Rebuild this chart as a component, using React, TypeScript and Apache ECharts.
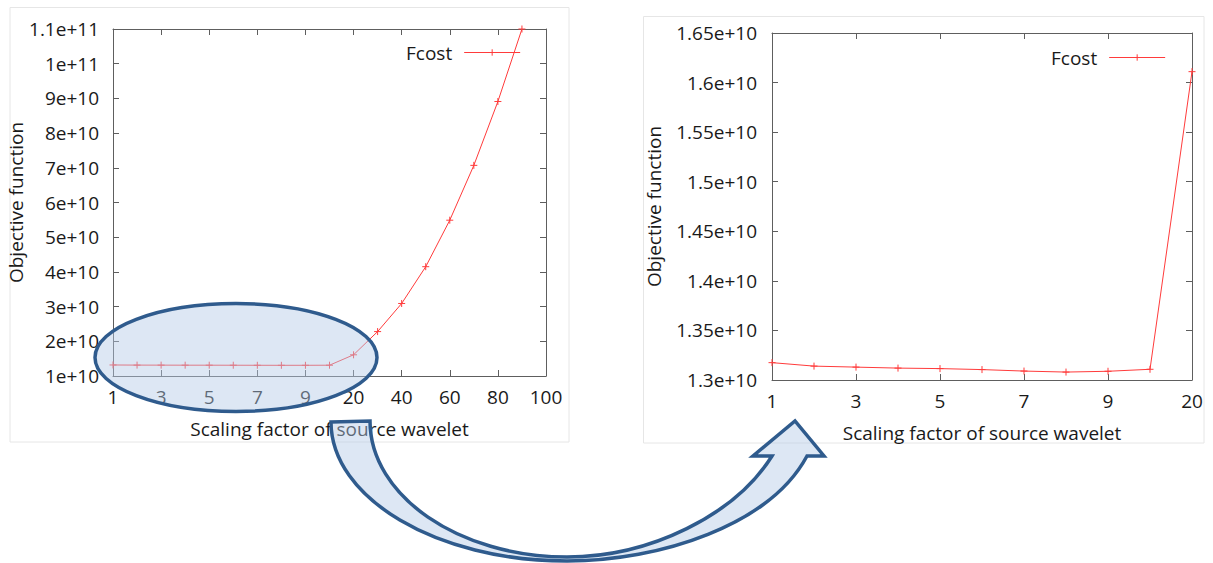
import React, { useEffect, useRef } from "react";
import * as echarts from "echarts";

// Scaling factors of the source wavelet (category axes)
const factorsLeft = ["1", "2", "3", "4", "5", "6", "7", "8", "9", "10", "20", "30", "40", "50", "60", "70", "80", "90", "100"];
const factorsRight = ["1", "2", "3", "4", "5", "6", "7", "8", "9", "10", "20"];

// Objective function values (Fcost)
const fcostLow = [1.3175e10, 1.314e10, 1.313e10, 1.312e10, 1.3115e10, 1.3105e10, 1.309e10, 1.308e10, 1.3088e10, 1.3108e10]; // factors 1..10
const fcostHigh = [1.611e10, 2.28e10, 3.09e10, 4.15e10, 5.49e10, 7.07e10, 8.91e10, 1.1e11]; // factors 20..90

const fcostLeft = [...fcostLow, ...fcostHigh];
const fcostRight = [...fcostLow, fcostHigh[0]];

const seriesName = "Fcost";
const xTitle = "Scaling factor of source wavelet";
const yTitle = "Objective function";

const FONT = "'Open Sans', 'Noto Sans', sans-serif";
const FS = 19;
const AXIS_COLOR = "#5e5e5e";
const TEXT_COLOR = "#1a1a1a";
const RED = "#ff3b3b";

function sci(v: number): string {
  if (v === 0) return "0";
  const e = Math.floor(Math.log10(Math.abs(v)) + 1e-9);
  const m = parseFloat((v / Math.pow(10, e)).toFixed(3));
  return `${m}e+${e}`;
}

const ARROW_D =
  "M331,422 L370,421 C370,496 459,557 567,557 C650,557 735,515 772,456 L753,456 L795,421 L824,456 L807,456 C770,525 660,561 567,561 C436,561 331,498 331,422 Z";

let registered = false;
function registerArrow() {
  if (registered) return;
  registered = true;
  echarts.graphic.registerShape("curvedArrow", echarts.graphic.extendPath(ARROW_D, {}) as any);
}

export default function App() {
  const ref = useRef<HTMLDivElement>(null);

  useEffect(() => {
    if (!ref.current) return;
    registerArrow();
    const chart = echarts.init(ref.current, undefined, { renderer: "svg" });

    const grids = [
      { left: 113, top: 29, width: 433, height: 347 },
      { left: 772, top: 33, width: 420, height: 347 },
    ];

    const mkX = (gi: number, data: string[], nameGap: number) => [
      {
        type: "category",
        gridIndex: gi,
        data,
        boundaryGap: false,
        position: "bottom",
        name: xTitle,
        nameLocation: "middle",
        nameGap,
        nameTextStyle: { fontFamily: FONT, fontSize: FS, color: TEXT_COLOR },
        axisLine: { show: true, lineStyle: { color: AXIS_COLOR, width: 1 } },
        axisTick: { show: true, inside: true, length: 6, interval: 1, lineStyle: { color: AXIS_COLOR } },
        axisLabel: { show: true, interval: 1, margin: 11, fontFamily: FONT, fontSize: FS, color: TEXT_COLOR },
        splitLine: { show: false },
      },
      {
        type: "category",
        gridIndex: gi,
        data,
        boundaryGap: false,
        position: "top",
        axisLine: { show: true, lineStyle: { color: AXIS_COLOR, width: 1 } },
        axisTick: { show: true, inside: true, length: 6, interval: 1, lineStyle: { color: AXIS_COLOR } },
        axisLabel: { show: false, interval: 1 },
        splitLine: { show: false },
      },
    ];

    const mkY = (gi: number, min: number, max: number, interval: number, nameGap: number, margin: number) => [
      {
        type: "value",
        gridIndex: gi,
        min,
        max,
        interval,
        position: "left",
        name: yTitle,
        nameLocation: "middle",
        nameRotate: 90,
        nameGap,
        nameTextStyle: { fontFamily: FONT, fontSize: FS, color: TEXT_COLOR },
        axisLine: { show: true, lineStyle: { color: AXIS_COLOR, width: 1 } },
        axisTick: { show: true, inside: true, length: 6, lineStyle: { color: AXIS_COLOR } },
        axisLabel: { margin, fontFamily: FONT, fontSize: FS, color: TEXT_COLOR, formatter: (v: number) => sci(v) },
        splitLine: { show: false },
      },
      {
        type: "value",
        gridIndex: gi,
        min,
        max,
        interval,
        position: "right",
        axisLine: { show: true, lineStyle: { color: AXIS_COLOR, width: 1 } },
        axisTick: { show: true, inside: true, length: 6, lineStyle: { color: AXIS_COLOR } },
        axisLabel: { show: false },
        splitLine: { show: false },
      },
    ];

    const symbolPlus = "path://M0,-4L0,4M-4,0L4,0";

    const mkSeries = (xi: number, yi: number, data: number[]) => ({
      type: "line",
      name: seriesName,
      xAxisIndex: xi,
      yAxisIndex: yi,
      data,
      symbol: symbolPlus,
      symbolSize: 7,
      showAllSymbol: true,
      clip: false,
      lineStyle: { color: RED, width: 1 },
      itemStyle: { color: RED, borderColor: RED, borderWidth: 1 },
      emphasis: { disabled: true },
    });

    const legendBase = {
      data: [seriesName],
      align: "right",
      orient: "horizontal",
      itemWidth: 56,
      itemHeight: 8,
      selectedMode: false,
      lineStyle: { width: 1 },
      itemStyle: { borderWidth: 1 },
      textStyle: { fontFamily: FONT, fontSize: FS, color: TEXT_COLOR, padding: [0, 7, 0, 0] },
    };

    chart.setOption({
      animation: false,
      backgroundColor: "#ffffff",
      grid: grids,
      xAxis: [...mkX(0, factorsLeft, 43), ...mkX(1, factorsRight, 43)],
      yAxis: [...mkY(0, 1e10, 1.1e11, 1e10, 86, 14), ...mkY(1, 1.3e10, 1.65e10, 5e8, 109, 15)],
      legend: [
        { ...legendBase, left: 401, top: 38 },
        { ...legendBase, left: 1046, top: 43 },
      ],
      series: [mkSeries(0, 0, fcostLeft), mkSeries(2, 2, fcostRight)],
      graphic: [
        {
          type: "rect",
          z: -10,
          silent: true,
          shape: { x: 10, y: 7.5, width: 559, height: 434.5 },
          style: { fill: "none", stroke: "#e6e6e6", lineWidth: 1 },
        },
        {
          type: "rect",
          z: -10,
          silent: true,
          shape: { x: 643.5, y: 16.5, width: 560.5, height: 426.5 },
          style: { fill: "none", stroke: "#e6e6e6", lineWidth: 1 },
        },
        {
          type: "ellipse",
          z: 100,
          silent: true,
          shape: { cx: 236, cy: 357.5, rx: 141, ry: 54 },
          style: { fill: "rgba(180,202,230,0.45)", stroke: "#2f5b8d", lineWidth: 3.5 },
        },
        {
          type: "curvedArrow",
          z: 100,
          silent: true,
          x: 0,
          y: 0,
          style: { fill: "rgba(180,202,230,0.45)", stroke: "#2f5b8d", lineWidth: 3.5, lineJoin: "miter" },
        },
      ],
    });

    return () => chart.dispose();
  }, []);

  return (
    <div
      ref={ref}
      style={{ position: "fixed", left: 0, top: 0, width: 1213, height: 563, background: "#fff" }}
    />
  );
}
